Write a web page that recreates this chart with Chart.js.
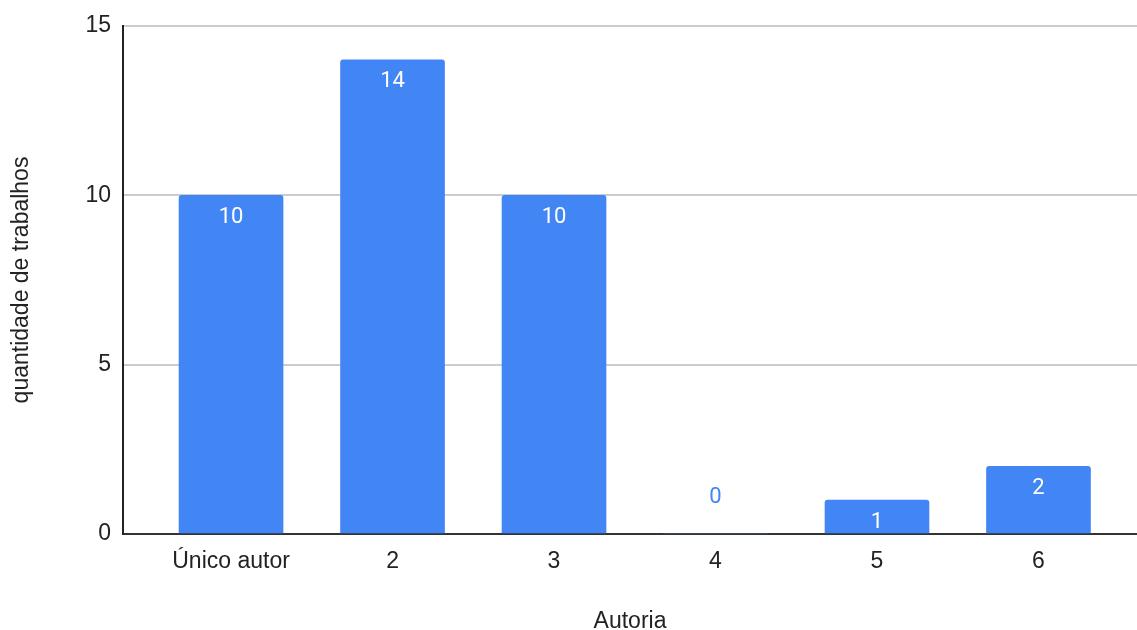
<!DOCTYPE html>
<html>
<head>
<meta charset="utf-8">
<script src="https://cdn.jsdelivr.net/npm/chart.js@4/dist/chart.umd.min.js"></script>
<style>
  html, body { margin: 0; padding: 0; background: #fff; }
  #wrap { width: 1137px; height: 630px; position: relative; }
</style>
</head>
<body>
<div id="wrap"><canvas id="c" width="1137" height="630"></canvas></div>
<script>
// Number of works by authorship size
const categories = ['Único autor', '2', '3', '4', '5', '6'];
const works = [10, 14, 10, 0, 1, 2];
const yTicks = [0, 5, 10, 15];

const BAR_BLUE = '#4285F4';
const AXIS_FONT = 'Arial, "Liberation Sans", sans-serif';
const LABEL_FONT = 'Roboto, Arial, sans-serif';

const points = categories.map((c, i) => ({ x: i, y: works[i] }));

// Value labels: white inside the bar top, blue above the baseline for empty bars
const valueLabels = {
  id: 'valueLabels',
  afterDatasetsDraw(chart) {
    const ctx = chart.ctx;
    const meta = chart.getDatasetMeta(0);
    const yScale = chart.scales.y;
    ctx.save();
    ctx.font = '400 22px ' + LABEL_FONT;
    ctx.textAlign = 'center';
    ctx.textBaseline = 'middle';
    meta.data.forEach((bar, i) => {
      const v = works[i];
      const base = yScale.getPixelForValue(0);
      if (v === 0) {
        ctx.fillStyle = BAR_BLUE;
        ctx.fillText(String(v), bar.x, base - 37);
      } else {
        ctx.fillStyle = '#ffffff';
        ctx.fillText(String(v), bar.x, bar.y + 22);
      }
    });
    ctx.restore();
  }
};

new Chart(document.getElementById('c'), {
  type: 'bar',
  data: {
    datasets: [{
      data: points,
      backgroundColor: BAR_BLUE,
      borderRadius: { topLeft: 3, topRight: 3, bottomLeft: 0, bottomRight: 0 },
      borderSkipped: 'bottom',
      barThickness: 104
    }]
  },
  options: {
    responsive: false,
    animation: false,
    layout: { padding: { top: 26, left: 0, right: 0, bottom: 0 } },
    plugins: {
      legend: { display: false },
      tooltip: { enabled: false }
    },
    scales: {
      x: {
        type: 'linear',
        offset: false,
        min: -0.669,
        max: 5.61,
        afterFit(scale) { scale.height = 96; },
        afterBuildTicks(scale) {
          scale.ticks = categories.map((c, i) => ({ value: i }));
        },
        ticks: {
          callback: (v) => categories[v],
          color: '#222',
          font: { family: AXIS_FONT, size: 23 },
          padding: 14,
          maxRotation: 0,
          autoSkip: false
        },
        grid: { display: false, drawTicks: false },
        border: { display: true, color: '#333', width: 2 },
        title: {
          display: true,
          text: 'Autoria',
          color: '#222',
          font: { family: AXIS_FONT, size: 23 },
          padding: { top: 0, bottom: -5 }
        }
      },
      y: {
        min: 0,
        max: 15,
        afterFit(scale) { scale.width = 123; },
        afterBuildTicks(scale) {
          scale.ticks = yTicks.map(v => ({ value: v }));
        },
        ticks: {
          color: '#222',
          font: { family: AXIS_FONT, size: 23 },
          padding: 12
        },
        grid: {
          color: (ctx) => ctx.tick && ctx.tick.value === 0 ? 'rgba(0,0,0,0)' : '#cccccc',
          lineWidth: 2,
          drawTicks: false
        },
        border: { display: true, color: '#222', width: 2 },
        title: {
          display: true,
          text: 'quantidade de trabalhos',
          color: '#222',
          font: { family: AXIS_FONT, size: 23 },
          padding: { top: 8, bottom: 0 }
        }
      }
    }
  },
  plugins: [valueLabels]
});
</script>
</body>
</html>
